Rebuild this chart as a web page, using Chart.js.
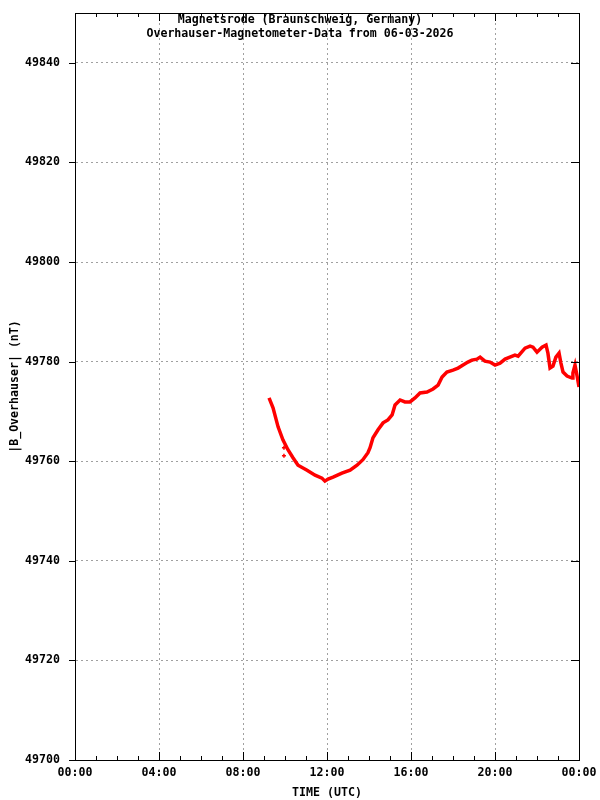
<!DOCTYPE html>
<html>
<head>
<meta charset="utf-8">
<script src="https://cdn.jsdelivr.net/npm/chart.js@4/dist/chart.umd.min.js"></script>
<style>
  html, body { margin: 0; padding: 0; background: #fff; }
  #wrap { width: 600px; height: 800px; }
</style>
</head>
<body>
<div id="wrap"><canvas id="magChart" width="600" height="800"></canvas></div>
<script>
// Magnetsrode Overhauser data, 06-03-2026
const timeH = [9.24, 9.43, 9.67, 9.90, 10.14, 10.38, 10.62, 11.05, 11.43, 11.76, 11.90, 12.05, 12.29,
  12.71, 13.10, 13.43, 13.71, 13.95, 14.05, 14.19, 14.43, 14.67, 14.90, 15.10, 15.24, 15.48, 15.71,
  15.95, 16.19, 16.43, 16.76, 17.05, 17.29, 17.48, 17.71, 18.00, 18.24, 18.48, 18.71, 18.90, 19.14,
  19.29, 19.52, 19.76, 20.00, 20.24, 20.48, 20.71, 20.95, 21.10, 21.43, 21.67, 21.81, 22.00, 22.24,
  22.43, 22.52, 22.62, 22.76, 22.90, 23.05, 23.14, 23.24, 23.43, 23.67, 23.71, 23.81, 23.90, 24.00];
const fieldNT = [49772.7, 49770.7, 49766.9, 49764.3, 49762.3, 49760.7, 49759.2, 49758.2, 49757.2,
  49756.6, 49756.0, 49756.4, 49756.8, 49757.6, 49758.2, 49759.2, 49760.3, 49761.7, 49762.7, 49764.7,
  49766.3, 49767.7, 49768.3, 49769.3, 49771.3, 49772.3, 49771.9, 49771.9, 49772.7, 49773.7, 49773.9,
  49774.5, 49775.3, 49776.9, 49777.9, 49778.3, 49778.7, 49779.3, 49779.9, 49780.3, 49780.5, 49780.9,
  49780.1, 49779.9, 49779.3, 49779.7, 49780.5, 49780.9, 49781.3, 49781.1, 49782.7, 49783.1, 49782.9,
  49781.9, 49782.9, 49783.3, 49781.7, 49778.7, 49779.1, 49780.9, 49781.7, 49779.7, 49777.9, 49777.1,
  49776.7, 49777.7, 49779.3, 49777.3, 49774.9];
// stray samples below the curve
const strayH = [9.95, 9.95];
const strayNT = [49762.7, 49761.1];

const xTicks = [0, 4, 8, 12, 16, 20, 24];
const yTicks = [49700, 49720, 49740, 49760, 49780, 49800, 49820, 49840];
const titleLines = ['Magnetsrode (Braunschweig, Germany)', 'Overhauser-Magnetometer-Data from 06-03-2026'];

const FONT = { family: '"DejaVu Sans Mono", "Liberation Mono", monospace', size: 11.6, weight: 'bold' };

function hhmm(v) {
    const h = Math.round(v) % 24;
    return (h < 10 ? '0' : '') + h + ':00';
}

// box, inward tick marks and the title inside the plot
const gnuplotFrame = {
    id: 'gnuplotFrame',
    afterDraw(chart) {
        const { ctx, chartArea: a, scales } = chart;
        ctx.save();
        ctx.strokeStyle = '#000';
        ctx.lineWidth = 1;
        ctx.strokeRect(Math.round(a.left) + 0.5, Math.round(a.top) + 0.5,
            Math.round(a.right - a.left), Math.round(a.bottom - a.top));
        ctx.beginPath();
        for (let h = 0; h <= 24; h++) {
            const x = Math.round(scales.x.getPixelForValue(h)) + 0.5;
            const len = h % 4 === 0 ? 8 : 4;
            ctx.moveTo(x, a.bottom); ctx.lineTo(x, a.bottom - len);
            ctx.moveTo(x, a.top); ctx.lineTo(x, a.top + len);
        }
        yTicks.forEach(v => {
            const y = Math.round(scales.y.getPixelForValue(v)) + 0.5;
            ctx.moveTo(a.left - 6, y); ctx.lineTo(a.left + 1, y);
            ctx.moveTo(a.right, y); ctx.lineTo(a.right - 8, y);
        });
        ctx.stroke();

        ctx.fillStyle = '#000';
        ctx.font = FONT.weight + ' ' + FONT.size + 'px ' + FONT.family;
        ctx.textAlign = 'center';
        ctx.textBaseline = 'middle';
        ctx.fillText(titleLines[0], 300, 20);
        ctx.fillText(titleLines[1], 300, 34);
        ctx.restore();
    }
};

const ctx = document.getElementById('magChart');
new Chart(ctx, {
    type: 'line',
    data: {
        datasets: [
            {
                label: '|B_Overhauser|',
                data: timeH.map((t, i) => ({ x: t, y: fieldNT[i] })),
                borderColor: '#ff0000',
                backgroundColor: '#ff0000',
                borderWidth: 3.5,
                pointRadius: 0,
                tension: 0,
                fill: false
            },
            {
                label: 'stray',
                data: strayH.map((t, i) => ({ x: t, y: strayNT[i] })),
                showLine: false,
                pointStyle: 'cross',
                pointRadius: 2,
                borderColor: '#ff0000',
                borderWidth: 1.5
            }
        ]
    },
    options: {
        responsive: false,
        animation: false,
        layout: { padding: { left: 0, right: 21, top: 13, bottom: 0 } },
        scales: {
            x: {
                type: 'linear',
                min: 0,
                max: 24,
                afterBuildTicks: s => { s.ticks = xTicks.map(v => ({ value: v })); },
                afterFit: s => { s.height = 40; s.paddingLeft = 0; s.paddingRight = 0; },
                ticks: { callback: v => hhmm(v), color: '#000', font: FONT, padding: 6, maxRotation: 0 },
                grid: { color: '#a0a0a0', drawTicks: false },
                border: { color: '#000', dash: [2, 3] },
                title: { display: true, text: 'TIME (UTC)', color: '#000', font: FONT, padding: { top: 6, bottom: 0 } }
            },
            y: {
                type: 'linear',
                min: 49700,
                max: 49850,
                afterBuildTicks: s => { s.ticks = yTicks.map(v => ({ value: v })); },
                afterFit: s => { s.width = 75; s.paddingTop = 0; s.paddingBottom = 0; },
                ticks: { callback: v => String(v), color: '#000', font: FONT, padding: 15 },
                grid: { color: '#a0a0a0', drawTicks: false },
                border: { color: '#000', dash: [2, 3] },
                title: { display: true, text: '|B_Overhauser| (nT)', color: '#000', font: FONT, padding: { top: 8, bottom: 0 } }
            }
        },
        plugins: {
            legend: { display: false },
            tooltip: { enabled: false }
        }
    },
    plugins: [gnuplotFrame]
});
</script>
</body>
</html>
